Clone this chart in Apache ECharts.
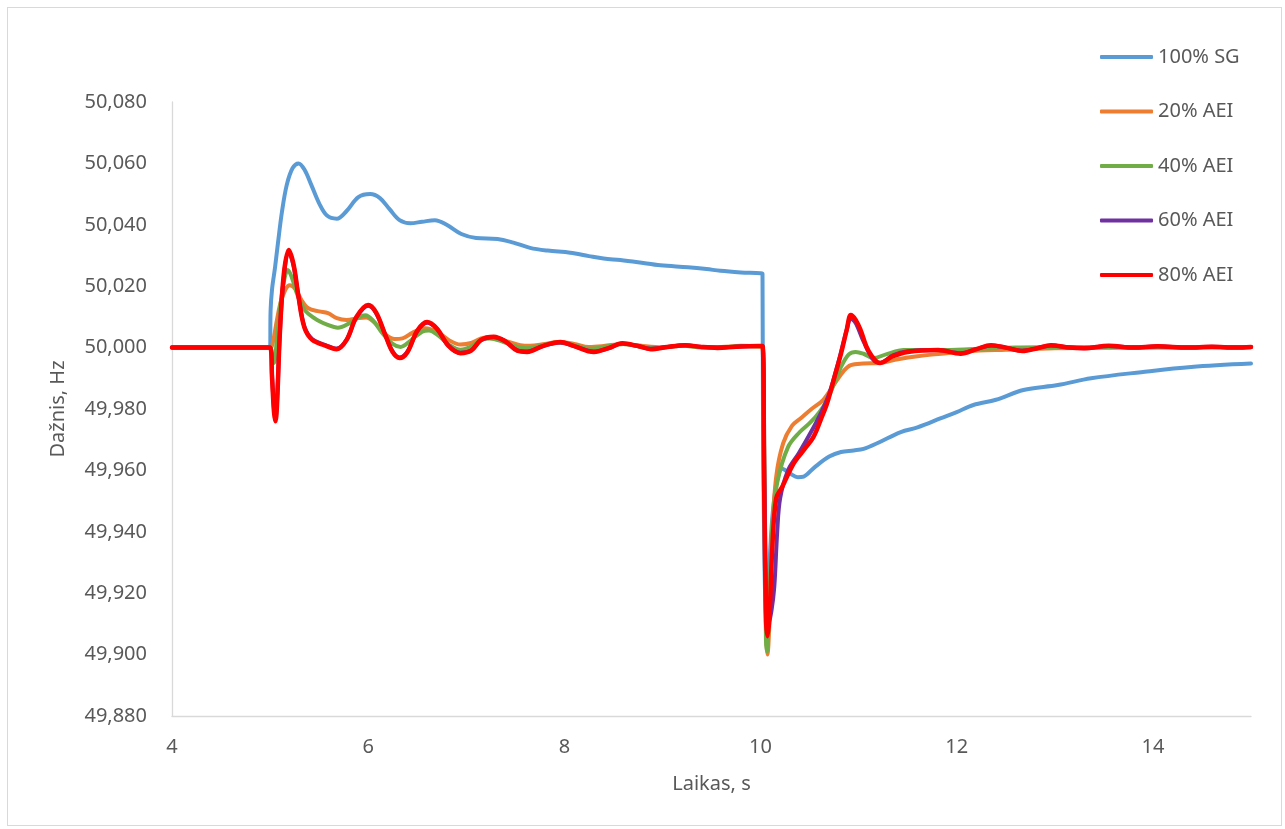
<!DOCTYPE html>
<html>
<head>
<meta charset="utf-8">
<script src="https://cdn.jsdelivr.net/npm/echarts@6/dist/echarts.min.js"></script>
<style>
html,body{margin:0;padding:0;background:#fff;}
#frame{position:absolute;left:7px;top:7px;width:1275px;height:819px;border:1px solid #d9d9d9;box-sizing:border-box;}
#chart{position:absolute;left:0;top:0;width:1285px;height:829px;}
</style>
</head>
<body>
<div id="frame"></div>
<div id="chart"></div>
<script>
const seriesNames = ['100% SG', '20% AEI', '40% AEI', '60% AEI', '80% AEI'];
const xTicks = [4, 6, 8, 10, 12, 14];
const yTicks = [49.88, 49.90, 49.92, 49.94, 49.96, 49.98, 50.00, 50.02, 50.04, 50.06, 50.08];

const sg100 = [[4.0,50.000],[5.00,50.000],[5.005,50.012],[5.02,50.019],[5.05,50.026],[5.08,50.034],[5.12,50.044],[5.17,50.053],[5.23,50.0585],[5.29,50.060],[5.35,50.058],[5.42,50.053],[5.50,50.047],[5.58,50.043],[5.68,50.042],[5.78,50.0445],[5.90,50.049],[6.02,50.050],[6.12,50.0487],[6.22,50.045],[6.32,50.0415],[6.43,50.0405],[6.55,50.041],[6.68,50.0415],[6.80,50.040],[6.95,50.037],[7.10,50.0357],[7.32,50.0354],[7.48,50.0342],[7.65,50.0325],[7.83,50.0316],[8.06,50.0309],[8.25,50.0298],[8.40,50.0290],[8.57,50.0285],[8.75,50.0278],[8.98,50.0268],[9.26,50.0262],[9.45,50.0256],[9.59,50.0250],[9.80,50.0245],[10.00,50.0242],[10.02,50.0240],[10.025,49.980],[10.04,49.930],[10.06,49.912],[10.08,49.918],[10.10,49.935],[10.13,49.948],[10.17,49.957],[10.22,49.9605],[10.30,49.959],[10.38,49.9578],[10.44,49.958],[10.55,49.961],[10.70,49.9645],[10.82,49.966],[10.95,49.9665],[11.05,49.967],[11.20,49.969],[11.43,49.9725],[11.60,49.974],[11.84,49.977],[12.00,49.979],[12.17,49.9813],[12.40,49.983],[12.68,49.9862],[13.03,49.9878],[13.37,49.990],[13.88,49.992],[14.39,49.9937],[15.0,49.9948]];

const aei20 = [[4.0,50.000],[5.00,50.000],[5.03,50.002],[5.07,50.009],[5.12,50.016],[5.20,50.0203],[5.26,50.019],[5.32,50.0155],[5.39,50.0128],[5.50,50.0118],[5.59,50.0112],[5.68,50.0096],[5.78,50.009],[5.90,50.0096],[5.98,50.0098],[6.07,50.008],[6.17,50.0045],[6.27,50.0028],[6.35,50.003],[6.45,50.0048],[6.58,50.0063],[6.70,50.0052],[6.82,50.0025],[6.94,50.001],[7.05,50.0015],[7.15,50.003],[7.25,50.0034],[7.40,50.0022],[7.55,50.0008],[7.65,50.0006],[7.80,50.0012],[7.93,50.0018],[8.10,50.0012],[8.25,50.0002],[8.40,50.0005],[8.60,50.0012],[8.80,50.0005],[9.00,50.0001],[9.20,50.0006],[9.40,50.0002],[9.60,50.0002],[9.80,50.0005],[10.00,50.0003],[10.02,50.0003],[10.04,49.960],[10.06,49.905],[10.07,49.900],[10.09,49.910],[10.12,49.940],[10.16,49.958],[10.23,49.9688],[10.32,49.9745],[10.41,49.977],[10.52,49.980],[10.64,49.983],[10.75,49.988],[10.85,49.9925],[10.92,49.9943],[11.05,49.9948],[11.22,49.995],[11.40,49.9962],[11.60,49.9972],[11.84,49.998],[12.10,49.9988],[12.50,49.9993],[13.0,49.9998],[14.0,50.0000],[15.0,50.0001]];

const aei40 = [[4.0,50.000],[5.00,50.000],[5.02,49.997],[5.04,49.995],[5.07,50.003],[5.11,50.015],[5.15,50.023],[5.18,50.0253],[5.22,50.023],[5.28,50.017],[5.34,50.0128],[5.39,50.011],[5.48,50.009],[5.58,50.0075],[5.69,50.0065],[5.80,50.0078],[5.90,50.0098],[5.97,50.0105],[6.05,50.0088],[6.15,50.0045],[6.25,50.0012],[6.33,50.0002],[6.43,50.0022],[6.55,50.0052],[6.62,50.0056],[6.72,50.0038],[6.83,50.0008],[6.94,49.9993],[7.05,50.0003],[7.15,50.0025],[7.24,50.003],[7.38,50.0018],[7.52,50.0002],[7.62,49.9998],[7.78,50.0008],[7.93,50.0017],[8.10,50.0008],[8.27,49.9996],[8.40,50.0002],[8.60,50.0012],[8.80,50.0002],[8.95,49.9998],[9.20,50.0007],[9.40,50.0],[9.60,50.0],[9.80,50.0006],[10.00,50.0004],[10.02,50.0004],[10.04,49.955],[10.055,49.905],[10.065,49.901],[10.085,49.912],[10.12,49.942],[10.17,49.956],[10.28,49.9676],[10.40,49.9725],[10.51,49.9757],[10.60,49.979],[10.68,49.983],[10.76,49.989],[10.82,49.9937],[10.90,49.9978],[10.97,49.9986],[11.05,49.998],[11.15,49.9966],[11.28,49.9978],[11.46,49.9992],[11.70,49.9992],[12.0,49.9993],[12.3,49.9997],[12.6,50.0],[13.0,50.0002],[14.0,50.0001],[15.0,50.0002]];

const aei60 = [[4.0,50.000],[5.00,50.000],[5.02,49.991],[5.04,49.980],[5.055,49.977],[5.07,49.982],[5.10,50.005],[5.14,50.023],[5.19,50.031],[5.24,50.0265],[5.29,50.0165],[5.35,50.0068],[5.43,50.0027],[5.55,50.001],[5.68,49.9997],[5.78,50.0025],[5.88,50.0098],[6.00,50.0136],[6.08,50.0113],[6.17,50.0045],[6.25,49.9987],[6.32,49.9968],[6.40,49.9987],[6.50,50.0053],[6.60,50.0081],[6.70,50.0061],[6.82,50.0006],[6.94,49.9983],[7.05,49.9991],[7.15,50.0024],[7.28,50.0034],[7.40,50.002],[7.52,49.9991],[7.62,49.9987],[7.78,50.0005],[7.96,50.0017],[8.10,50.0005],[8.30,49.9987],[8.45,49.9998],[8.59,50.0013],[8.75,50.0005],[8.88,49.9996],[9.05,50.0002],[9.23,50.0008],[9.40,50.0002],[9.56,50.0],[9.75,50.0003],[9.98,50.0005],[10.02,50.0005],[10.04,49.955],[10.06,49.915],[10.08,49.910],[10.11,49.914],[10.14,49.922],[10.17,49.940],[10.20,49.951],[10.28,49.960],[10.39,49.9656],[10.54,49.974],[10.62,49.979],[10.70,49.985],[10.80,49.996],[10.88,50.006],[10.92,50.0095],[10.97,50.008],[11.05,50.002],[11.15,49.996],[11.22,49.995],[11.35,49.9975],[11.50,49.9988],[11.81,49.9992],[12.04,49.9982],[12.20,49.9995],[12.35,50.0007],[12.50,50.0],[12.67,49.999],[12.82,49.9998],[12.96,50.0007],[13.15,50.0],[13.30,49.9998],[13.55,50.0005],[13.80,50.0],[14.05,50.0004],[14.35,50.0],[14.60,50.0003],[14.85,50.0],[15.0,50.0002]];

const aei80 = [[4.0,50.000],[5.00,50.000],[5.02,49.990],[5.04,49.979],[5.055,49.976],[5.07,49.981],[5.10,50.005],[5.14,50.024],[5.19,50.0318],[5.24,50.027],[5.29,50.0165],[5.35,50.0065],[5.43,50.0025],[5.55,50.0008],[5.68,49.9995],[5.78,50.0025],[5.88,50.010],[6.00,50.0139],[6.08,50.0115],[6.17,50.0045],[6.25,49.9985],[6.32,49.9966],[6.40,49.9985],[6.50,50.0055],[6.60,50.0083],[6.70,50.0062],[6.82,50.0005],[6.94,49.9982],[7.05,49.999],[7.15,50.0025],[7.28,50.0035],[7.40,50.002],[7.52,49.999],[7.62,49.9986],[7.78,50.0005],[7.96,50.0018],[8.10,50.0005],[8.30,49.9986],[8.45,49.9998],[8.59,50.0014],[8.75,50.0005],[8.88,49.9995],[9.05,50.0002],[9.23,50.0008],[9.40,50.0002],[9.56,49.9999],[9.75,50.0003],[9.98,50.0005],[10.02,50.0005],[10.035,49.960],[10.055,49.912],[10.07,49.906],[10.09,49.912],[10.12,49.935],[10.16,49.951],[10.22,49.9546],[10.34,49.9624],[10.45,49.967],[10.54,49.9709],[10.62,49.977],[10.68,49.982],[10.75,49.990],[10.82,49.998],[10.88,50.006],[10.92,50.0106],[10.97,50.009],[11.02,50.0057],[11.10,49.999],[11.22,49.995],[11.35,49.9972],[11.50,49.9986],[11.81,49.9992],[12.04,49.998],[12.20,49.9995],[12.35,50.0008],[12.50,50.0],[12.67,49.9989],[12.82,49.9998],[12.96,50.0008],[13.15,50.0],[13.30,49.9998],[13.55,50.0006],[13.80,50.0],[14.05,50.0004],[14.35,50.0],[14.60,50.0003],[14.85,50.0],[15.0,50.0002]];

const seriesData = [sg100, aei20, aei40, aei60, aei80];
const colors = ['#5B9BD5', '#ED7D31', '#70AD47', '#7030A0', '#FF0000'];
const widths = [4, 4, 4, 4, 4.5];

const FONT = '"Noto Sans", sans-serif';
const TXT = '#595959';

const chart = echarts.init(document.getElementById('chart'), null, {renderer: 'canvas'});
chart.setOption({
  animation: false,
  backgroundColor: 'transparent',
  grid: {left: 172, right: 34, top: 102, bottom: 113, containLabel: false},
  legend: {
    orient: 'vertical',
    left: 1095,
    top: 42,
    icon: 'roundRect',
    itemWidth: 53,
    itemHeight: 4,
    itemGap: 34.5,
    itemTextGap: 5,
    data: seriesNames,
    textStyle: {fontFamily: FONT, fontSize: 20, color: TXT, lineHeight: 20, height: 20}
  },
  xAxis: {
    type: 'value',
    min: 4,
    max: 15,
    interval: 2,
    name: 'Laikas, s',
    nameLocation: 'middle',
    nameGap: 58,
    nameTextStyle: {fontFamily: FONT, fontSize: 20, color: TXT},
    axisLine: {show: true, lineStyle: {color: '#d9d9d9', width: 1.3}},
    axisTick: {show: false},
    splitLine: {show: false},
    axisLabel: {
      show: true, margin: 21, showMaxLabel: false,
      fontFamily: FONT, fontSize: 20, color: TXT,
      formatter: v => (xTicks.indexOf(Math.round(v)) >= 0 && Math.abs(v - Math.round(v)) < 1e-6) ? String(Math.round(v)) : ''
    }
  },
  yAxis: {
    type: 'value',
    min: 49.88,
    max: 50.08,
    interval: 0.02,
    name: 'Dažnis, Hz',
    nameLocation: 'middle',
    nameRotate: 90,
    nameGap: 104,
    nameTextStyle: {fontFamily: FONT, fontSize: 20, color: TXT},
    axisLine: {show: true, lineStyle: {color: '#d9d9d9', width: 1.3}},
    axisTick: {show: false},
    splitLine: {show: false},
    axisLabel: {
      margin: 25,
      fontFamily: FONT, fontSize: 20, color: TXT,
      formatter: v => v.toFixed(3).replace('.', ',')
    }
  },
  series: seriesNames.map((n, i) => ({
    name: n,
    type: 'line',
    data: seriesData[i],
    showSymbol: false,
    symbol: 'none',
    smooth: 0.35,
    z: 2 + i,
    lineStyle: {color: colors[i], width: widths[i], cap: 'round', join: 'round'},
    itemStyle: {color: colors[i]},
    emphasis: {disabled: true}
  }))
});
</script>
</body>
</html>
